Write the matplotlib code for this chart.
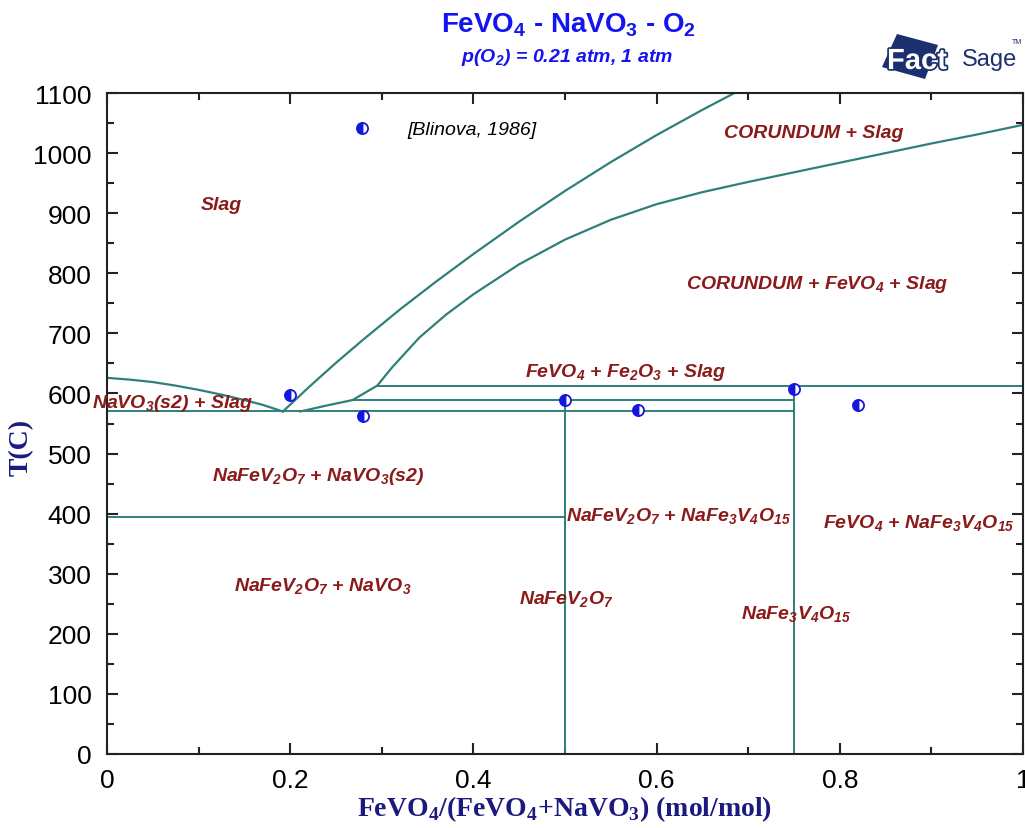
import matplotlib.pyplot as plt
import matplotlib.patheffects as pe
from matplotlib.patches import Polygon

# Линии фазовой диаграммы FeVO4 - NaVO3 - O2
navo3_liq_x = [0.0, 0.025, 0.05, 0.075, 0.10, 0.125, 0.15, 0.17, 0.192]
navo3_liq_T = [626, 623, 619, 613, 606, 598, 589, 581, 570]

upper_liq_x = [0.192, 0.22, 0.25, 0.28, 0.32, 0.36, 0.40, 0.45, 0.50, 0.55, 0.60, 0.65, 0.70]
upper_liq_T = [570, 610, 651, 690, 740, 787, 832, 886, 937, 985, 1030, 1072, 1112]

lower_liq_x = [0.211, 0.24, 0.268, 0.295, 0.311, 0.341, 0.37, 0.40, 0.45, 0.50, 0.55, 0.60,
               0.65, 0.70, 0.75, 0.80, 0.85, 0.90, 0.95, 1.0]
lower_liq_T = [570, 580, 589, 613, 643, 693, 731, 765, 815, 856, 889, 915,
               935, 952, 968, 984, 1000, 1016, 1031, 1047]

# горизонтали: (x_start, x_end, T)
horizontals = [(0.0, 0.75, 570), (0.268, 0.75, 589), (0.295, 1.0, 613), (0.0, 0.5, 395)]
# вертикали: (x, T_top)
verticals = [(0.5, 589), (0.75, 613)]

# экспериментальные точки [Blinova, 1986]
exp_x = [0.278, 0.20, 0.28, 0.50, 0.58, 0.75, 0.82]
exp_T = [1041, 597, 562, 589, 573, 608, 580]

# подписи областей
labels = [
    ('Slag', 0.125, 915),
    ('CORUNDUM + Slag', 0.771, 1035),
    ('CORUNDUM + FeVO$_\\mathregular{4}$ + Slag', 0.775, 783),
    ('FeVO$_\\mathregular{4}$ + Fe$_\\mathregular{2}$O$_\\mathregular{3}$ + Slag', 0.566, 636),
    ('NaVO$_\\mathregular{3}$(s2) + Slag', 0.072, 585),
    ('NaFeV$_\\mathregular{2}$O$_\\mathregular{7}$ + NaVO$_\\mathregular{3}$(s2)', 0.230, 464),
    ('NaFeV$_\\mathregular{2}$O$_\\mathregular{7}$ + NaFe$_\\mathregular{3}$V$_\\mathregular{4}$O$_\\mathregular{15}$', 0.624, 396),
    ('FeVO$_\\mathregular{4}$ + NaFe$_\\mathregular{3}$V$_\\mathregular{4}$O$_\\mathregular{15}$', 0.886, 384),
    ('NaFeV$_\\mathregular{2}$O$_\\mathregular{7}$ + NaVO$_\\mathregular{3}$', 0.235, 279),
    ('NaFeV$_\\mathregular{2}$O$_\\mathregular{7}$', 0.501, 259),
    ('NaFe$_\\mathregular{3}$V$_\\mathregular{4}$O$_\\mathregular{15}$', 0.752, 234),
]

line_color = '#2f7f7a'
label_color = '#8b1a1a'
navy = '#1a1a80'

W, H = 1025, 829
fig = plt.figure(figsize=(W / 100, H / 100), dpi=100)
ax = fig.add_axes([107 / W, 1 - 755 / H, (1023 - 107) / W, (755 - 94) / H])

ax.plot(navo3_liq_x, navo3_liq_T, color=line_color, linewidth=1.6)
ax.plot(upper_liq_x, upper_liq_T, color=line_color, linewidth=1.6)
ax.plot(lower_liq_x, lower_liq_T, color=line_color, linewidth=1.6)
for x0, x1, t in horizontals:
    ax.plot([x0, x1], [t, t], color=line_color, linewidth=1.4)
for x, t in verticals:
    ax.plot([x, x], [0, t], color=line_color, linewidth=1.4)

ax.plot(exp_x, exp_T, linestyle='none', marker='o', markersize=8, fillstyle='left',
        markerfacecolor='#1515e0', markerfacecoloralt='white', markeredgecolor='#1515e0',
        markeredgewidth=1.3, zorder=5)

for txt, x, t in labels:
    ax.text(x, t, txt, color=label_color, fontsize=14, fontweight='bold', fontstyle='italic',
            family='Liberation Sans', ha='center', va='center', clip_on=False)
ax.text(0.398, 1040, '[Blinova, 1986]', color='black', fontsize=14, fontstyle='italic',
        family='Liberation Sans', ha='center', va='center')

ax.set_xlim(0, 1)
ax.set_ylim(0, 1100)
ax.set_xticks([0, 0.2, 0.4, 0.6, 0.8, 1.0])
ax.set_xticklabels(['0', '0.2', '0.4', '0.6', '0.8', '1'])
ax.set_xticks([0.1, 0.3, 0.5, 0.7, 0.9], minor=True)
ax.set_yticks(range(0, 1101, 100))
ax.set_yticks(range(50, 1100, 100), minor=True)
ax.tick_params(which='both', direction='in', top=True, right=True, width=1.5, color='#222222')
ax.tick_params(which='major', length=8, labelsize=19, pad=11, labelcolor='black')
ax.tick_params(which='minor', length=5)
for lbl in ax.get_xticklabels() + ax.get_yticklabels():
    lbl.set_family('Liberation Sans')
ax.tick_params(axis='x', pad=10)
for s in ax.spines.values():
    s.set_linewidth(1.5)
    s.set_color('#222222')

ax.set_xlabel('FeVO$_\\mathregular{4}$/(FeVO$_\\mathregular{4}$+NaVO$_\\mathregular{3}$) (mol/mol)',
              family='Liberation Serif', fontweight='bold', fontsize=20, color=navy, labelpad=1)
ax.set_ylabel('T(C)', family='Liberation Serif', fontweight='bold', fontsize=20, color=navy)
ax.yaxis.set_label_coords(-0.08, 0.466)

# заголовок
fig.text(568 / W, 1 - 25 / H, 'FeVO$_\\mathregular{4}$ - NaVO$_\\mathregular{3}$ - O$_\\mathregular{2}$',
         color='#1414f0', fontsize=20, fontweight='bold', family='Liberation Sans', ha='center', va='center')
fig.text(567 / W, 1 - 57 / H, 'p(O$_\\mathregular{2}$) = 0.21 atm, 1 atm',
         color='#1414f0', fontsize=14, fontweight='bold', fontstyle='italic', family='Liberation Sans',
         ha='center', va='center')

# логотип FactSage
logo_px = [(897, 35), (938, 46), (925, 80), (882, 68)]
fig.patches.append(Polygon([(x / W, 1 - y / H) for x, y in logo_px], closed=True,
                           transform=fig.transFigure, facecolor='#1c2f6e', edgecolor='none'))
fig.text(887 / W, 1 - 62 / H, 'Fact', color='white', fontsize=21, fontweight='bold',
         family='Liberation Sans', ha='left', va='center',
         path_effects=[pe.withStroke(linewidth=2.5, foreground='#1c2f6e')])
fig.text(962 / W, 1 - 60 / H, 'Sage', color='#1c2f6e', fontsize=17, family='Liberation Sans',
         ha='left', va='center')
fig.text(1012 / W, 1 - 42 / H, 'TM', color='#1c2f6e', fontsize=5, family='Liberation Sans',
         ha='left', va='center')

fig.savefig('out.png', dpi=100)
